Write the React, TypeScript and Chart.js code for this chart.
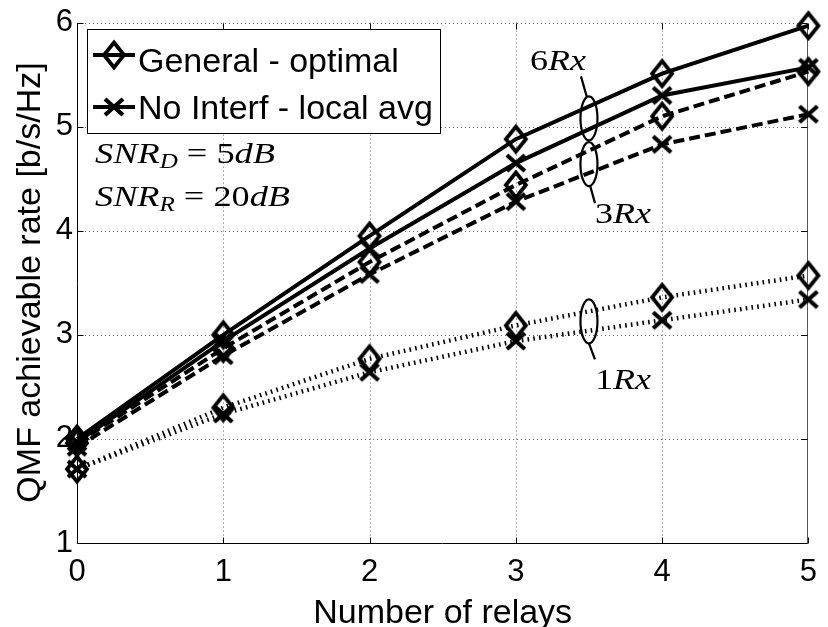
import React, { useEffect, useRef } from 'react';
import { Chart, registerables } from 'chart.js';

Chart.register(...registerables);

// ---------- data ----------
const relays = [0, 1, 2, 3, 4, 5];
const general6 = [2.0, 3.0, 3.95, 4.88, 5.51, 5.97];
const noInterf6 = [1.97, 2.94, 3.83, 4.65, 5.3, 5.57];
const general3 = [1.96, 2.87, 3.7, 4.44, 5.1, 5.53];
const noInterf3 = [1.92, 2.8, 3.58, 4.28, 4.83, 5.12];
const general1 = [1.71, 2.3, 2.77, 3.09, 3.36, 3.57];
const noInterf1 = [1.71, 2.24, 2.64, 2.94, 3.14, 3.34];

const xTickValues = [0, 1, 2, 3, 4, 5];
const yTickValues = [1, 2, 3, 4, 5, 6];
const legendLabels = ['General - optimal', 'No Interf - local avg'];
const xTitle = 'Number of relays';
const yTitle = 'QMF achievable rate [b/s/Hz]';

// group annotation anchors (data coords) and labels
const groupNames = ['6', '3', '1'];
const groupAnchorX = [3.5, 3.5, 3.5];
const groupAnchorY = [5.08, 4.64, 3.13];

const SANS = '"Liberation Sans", Arial, Helvetica, sans-serif';
const SERIF = '"Liberation Serif", "Times New Roman", serif';

function makeDiamond(hw: number, hh: number, lw: number) {
  const c = document.createElement('canvas');
  const pad = Math.ceil(lw * 2);
  c.width = 2 * (Math.ceil(hw) + pad);
  c.height = 2 * (Math.ceil(hh) + pad);
  const g = c.getContext('2d')!;
  const cx = c.width / 2;
  const cy = c.height / 2;
  g.lineWidth = lw;
  g.strokeStyle = '#000';
  g.lineJoin = 'miter';
  g.beginPath();
  g.moveTo(cx, cy - hh);
  g.lineTo(cx + hw, cy);
  g.lineTo(cx, cy + hh);
  g.lineTo(cx - hw, cy);
  g.closePath();
  g.stroke();
  return c;
}

function makeCross(hw: number, hh: number, lw: number) {
  const c = document.createElement('canvas');
  const pad = Math.ceil(lw * 2);
  c.width = 2 * (Math.ceil(hw) + pad);
  c.height = 2 * (Math.ceil(hh) + pad);
  const g = c.getContext('2d')!;
  const cx = c.width / 2;
  const cy = c.height / 2;
  g.lineWidth = lw;
  g.strokeStyle = '#000';
  g.lineCap = 'butt';
  g.beginPath();
  g.moveTo(cx - hw, cy - hh);
  g.lineTo(cx + hw, cy + hh);
  g.moveTo(cx - hw, cy + hh);
  g.lineTo(cx + hw, cy - hh);
  g.stroke();
  return c;
}

type Seg = { t: string; it: boolean; s: number; dy?: number };

function drawRich(ctx: CanvasRenderingContext2D, segs: Seg[], x: number, y: number, targetW: number) {
  const widths: number[] = [];
  let total = 0;
  for (const sg of segs) {
    ctx.font = `${sg.it ? 'italic ' : ''}${sg.s}px ${SERIF}`;
    const w = ctx.measureText(sg.t).width;
    widths.push(w);
    total += w;
  }
  const sx = targetW / total;
  ctx.save();
  ctx.translate(x, y);
  ctx.scale(sx, 1);
  ctx.fillStyle = '#000';
  ctx.textBaseline = 'alphabetic';
  ctx.textAlign = 'left';
  let cx = 0;
  segs.forEach((sg, i) => {
    ctx.font = `${sg.it ? 'italic ' : ''}${sg.s}px ${SERIF}`;
    ctx.fillText(sg.t, cx, sg.dy || 0);
    cx += widths[i];
  });
  ctx.restore();
}

export default function App() {
  const ref = useRef<HTMLCanvasElement | null>(null);

  useEffect(() => {
    document.body.style.margin = '0';
    const canvas = ref.current;
    if (!canvas) return;

    const diamond = makeDiamond(10, 12.5, 3.8);
    const cross = makeCross(9, 8, 4.2);

    const mk = (label: string, ys: number[], dash: number[], lw: number, marker: HTMLCanvasElement) => ({
      label,
      data: relays.map((x, i) => ({ x, y: ys[i] })),
      borderColor: '#000',
      borderWidth: lw,
      borderDash: dash,
      borderCapStyle: 'butt',
      borderJoinStyle: 'miter',
      pointStyle: marker,
      pointRadius: 10,
      pointBorderWidth: 0,
      pointBackgroundColor: 'rgba(0,0,0,0)',
      pointBorderColor: '#000',
      tension: 0,
      fill: false,
      clip: false,
    });

    const solid: number[] = [];
    const dashed = [11, 5];
    const dotted = [1.6, 4.2];

    const overlay = {
      id: 'overlay',
      beforeDatasetsDraw(chart: any) {
        const ctx: CanvasRenderingContext2D = chart.ctx;
        const xs = chart.scales.x;
        const ys = chart.scales.y;
        const { left, right, top, bottom } = chart.chartArea;
        ctx.save();
        ctx.fillStyle = '#fff';
        ctx.fillRect(left, top, right - left, bottom - top);
        // dotted grid
        ctx.strokeStyle = '#666';
        ctx.lineWidth = 1;
        ctx.setLineDash([1, 3]);
        xTickValues.forEach((v) => {
          if (v === xTickValues[0] || v === xTickValues[xTickValues.length - 1]) return;
          const px = Math.round(xs.getPixelForValue(v)) + 0.5;
          ctx.beginPath();
          ctx.moveTo(px, top);
          ctx.lineTo(px, bottom);
          ctx.stroke();
        });
        yTickValues.forEach((v) => {
          if (v === yTickValues[0]) return;
          const py = Math.round(ys.getPixelForValue(v)) + 0.5;
          ctx.beginPath();
          ctx.moveTo(left, py);
          ctx.lineTo(right, py);
          ctx.stroke();
        });
        ctx.setLineDash([]);
        // frame
        const L = Math.round(left) + 0.5;
        const B = Math.round(bottom) + 0.5;
        const R = Math.round(right) - 0.5;
        const T = Math.round(top) + 0.5;
        ctx.strokeStyle = '#000';
        ctx.beginPath();
        ctx.moveTo(L, T);
        ctx.lineTo(L, B);
        ctx.lineTo(R, B);
        ctx.stroke();
        ctx.strokeStyle = '#555';
        ctx.beginPath();
        ctx.moveTo(R, T);
        ctx.lineTo(R, B);
        ctx.stroke();
        // inward tick marks
        ctx.strokeStyle = '#000';
        const tl = 6;
        xTickValues.forEach((v) => {
          const px = Math.round(xs.getPixelForValue(v)) + 0.5;
          ctx.beginPath();
          ctx.moveTo(px, B);
          ctx.lineTo(px, B - tl);
          ctx.moveTo(px, T);
          ctx.lineTo(px, T + tl);
          ctx.stroke();
        });
        yTickValues.forEach((v) => {
          const py = Math.round(ys.getPixelForValue(v)) + 0.5;
          ctx.beginPath();
          ctx.moveTo(L, py);
          ctx.lineTo(L + tl, py);
          ctx.moveTo(R, py);
          ctx.lineTo(R - tl, py);
          ctx.stroke();
        });
        ctx.restore();
      },
      afterDraw(chart: any) {
        const ctx: CanvasRenderingContext2D = chart.ctx;
        const xs = chart.scales.x;
        const ys = chart.scales.y;
        const { left, right } = chart.chartArea;
        ctx.save();

        // group ellipses + labels
        ctx.strokeStyle = '#000';
        ctx.lineWidth = 2.2;
        const leaders = [
          { a: [-2, -21], b: [-8, -42], tx: -59, ty: -48 },
          { a: [1, 21], b: [6, 39], tx: 6, ty: 59 },
          { a: [0, 22], b: [6, 38], tx: 6, ty: 68 },
        ];
        groupNames.forEach((g, i) => {
          const cx = xs.getPixelForValue(groupAnchorX[i]);
          const cy = ys.getPixelForValue(groupAnchorY[i]);
          ctx.beginPath();
          ctx.ellipse(cx, cy, 8.5, 22, 0, 0, Math.PI * 2);
          ctx.stroke();
          const ld = leaders[i];
          ctx.beginPath();
          ctx.moveTo(cx + ld.a[0], cy + ld.a[1]);
          ctx.lineTo(cx + ld.b[0], cy + ld.b[1]);
          ctx.stroke();
          drawRich(
            ctx,
            [
              { t: g, it: false, s: 30 },
              { t: 'Rx', it: true, s: 30 },
            ],
            cx + ld.tx,
            cy + ld.ty,
            56
          );
        });

        // SNR annotations
        drawRich(
          ctx,
          [
            { t: 'SNR', it: true, s: 29 },
            { t: 'D', it: true, s: 20, dy: 5 },
            { t: ' = ', it: false, s: 29 },
            { t: '5', it: false, s: 29 },
            { t: 'dB', it: true, s: 29 },
          ],
          95,
          163,
          180
        );
        drawRich(
          ctx,
          [
            { t: 'SNR', it: true, s: 29 },
            { t: 'R', it: true, s: 20, dy: 5 },
            { t: ' = ', it: false, s: 29 },
            { t: '20', it: false, s: 29 },
            { t: 'dB', it: true, s: 29 },
          ],
          95,
          206,
          195
        );

        // legend
        const lx = 87, ly = 29, lw = 353, lh = 104;
        ctx.fillStyle = '#fff';
        ctx.fillRect(lx, ly, lw, lh);
        ctx.strokeStyle = '#000';
        ctx.lineWidth = 1;
        ctx.strokeRect(lx + 0.5, ly + 0.5, lw, lh);
        const rowY = [55, 107];
        const rowBase = [72, 119];
        const markers = [diamond, cross];
        legendLabels.forEach((lab, i) => {
          ctx.strokeStyle = '#000';
          ctx.lineWidth = 4;
          ctx.beginPath();
          ctx.moveTo(93, rowY[i]);
          ctx.lineTo(135, rowY[i]);
          ctx.stroke();
          const m = markers[i];
          ctx.drawImage(m, 114 - m.width / 2, rowY[i] - m.height / 2);
          ctx.fillStyle = '#000';
          ctx.font = `34px ${SANS}`;
          ctx.textAlign = 'left';
          ctx.textBaseline = 'alphabetic';
          ctx.fillText(lab, 138, rowBase[i]);
        });

        // axis titles
        ctx.fillStyle = '#000';
        ctx.font = `34px ${SANS}`;
        ctx.textAlign = 'center';
        ctx.textBaseline = 'alphabetic';
        ctx.fillText(xTitle, (left + right) / 2, 623);
        ctx.save();
        ctx.translate(40, (63 + 502) / 2);
        ctx.rotate(-Math.PI / 2);
        ctx.fillText(yTitle, 0, 0);
        ctx.restore();

        ctx.restore();
      },
    };

    const chart = new Chart(canvas, {
      type: 'line',
      data: {
        datasets: [
          mk('6Rx ' + legendLabels[0], general6, solid, 4, diamond),
          mk('6Rx ' + legendLabels[1], noInterf6, solid, 4, cross),
          mk('3Rx ' + legendLabels[0], general3, dashed, 4, diamond),
          mk('3Rx ' + legendLabels[1], noInterf3, dashed, 4, cross),
          mk('1Rx ' + legendLabels[0], general1, dotted, 4.5, diamond),
          mk('1Rx ' + legendLabels[1], noInterf1, dotted, 4.5, cross),
        ] as any,
      },
      options: {
        responsive: false,
        animation: false,
        devicePixelRatio: 1,
        events: [],
        layout: { padding: { left: 0, right: 7, top: 18, bottom: 0 } },
        plugins: {
          legend: { display: false },
          tooltip: { enabled: false },
          title: { display: false },
        },
        scales: {
          x: {
            type: 'linear',
            min: 0,
            max: 5,
            afterBuildTicks: (s: any) => {
              s.ticks = xTickValues.map((v) => ({ value: v }));
            },
            afterFit: (s: any) => {
              s.height = 84;
            },
            ticks: {
              color: '#000',
              font: { family: SANS, size: 31 },
              padding: 11,
              maxRotation: 0,
              autoSkip: false,
              callback: (v: any) => String(v),
            },
            grid: { display: false, drawTicks: false, tickLength: 0 },
            border: { display: false },
          },
          y: {
            type: 'linear',
            min: 1,
            max: 6,
            afterBuildTicks: (s: any) => {
              s.ticks = yTickValues.map((v) => ({ value: v }));
            },
            afterFit: (s: any) => {
              s.width = 77;
            },
            ticks: {
              color: '#000',
              font: { family: SANS, size: 31 },
              padding: 4,
              autoSkip: false,
              callback: (v: any) => String(v),
            },
            grid: { display: false, drawTicks: false, tickLength: 0 },
            border: { display: false },
          },
        },
      } as any,
      plugins: [overlay as any],
    });

    return () => chart.destroy();
  }, []);

  return (
    <div style={{ width: 828, height: 627, position: 'relative', background: '#fff' }}>
      <canvas ref={ref} width={828} height={627} style={{ display: 'block', width: 828, height: 627 }} />
    </div>
  );
}
